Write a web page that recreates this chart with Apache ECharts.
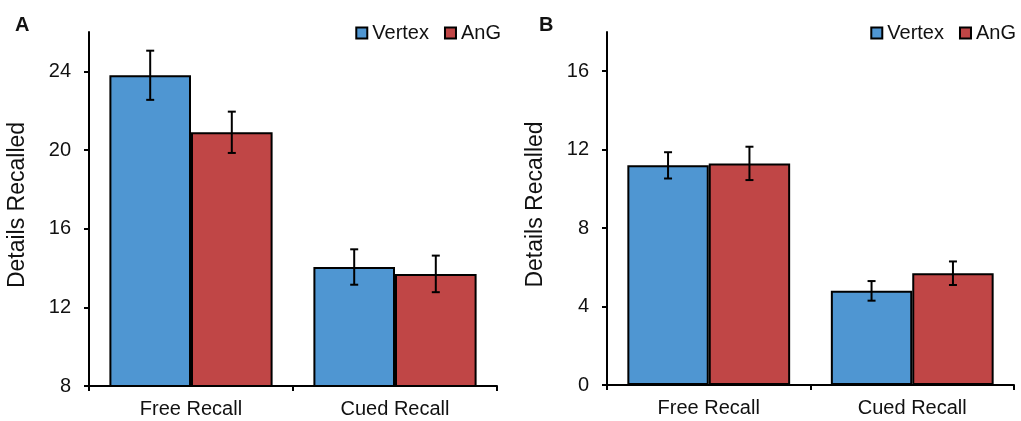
<!DOCTYPE html>
<html>
<head>
<meta charset="utf-8">
<script src="https://cdn.jsdelivr.net/npm/echarts@6/dist/echarts.min.js"></script>
<style>
  html, body { margin: 0; padding: 0; background: #fff; }
  #main { width: 1021px; height: 421px; }
</style>
</head>
<body>
<div id="main"></div>
<script>
// data
var categories = ['Free Recall', 'Cued Recall'];
var seriesNames = ['Vertex', 'AnG'];

var vertexA = [23.8, 14.05];
var vertexErrA = [1.25, 0.9];
var angA = [20.9, 13.7];
var angErrA = [1.05, 0.93];

var vertexB = [11.2, 4.8];
var vertexErrB = [0.67, 0.5];
var angB = [11.3, 5.7];
var angErrB = [0.85, 0.6];

var ticksA = [8, 12, 16, 20, 24];
var ticksB = [0, 4, 8, 12, 16];

var FONT = 'Liberation Sans, Arial, sans-serif';
var TXT = '#111';
var colors = ['#4F96D2', '#C04646'];

var chartDom = document.getElementById('main');
var myChart = echarts.init(chartDom);

function errData(vals, errs) {
  return vals.map(function (v, i) { return [i, v - errs[i], v + errs[i]]; });
}

// error bar drawn on top of the bar: side -1 = left bar, +1 = right bar
function errSeries(name, vals, errs, side, idx) {
  return {
    type: 'custom',
    name: name + ' err',
    xAxisIndex: idx,
    yAxisIndex: idx,
    z: 10,
    silent: true,
    data: errData(vals, errs),
    renderItem: function (params, api) {
      var cat = api.value(0);
      var lo = api.coord([cat, api.value(1)]);
      var hi = api.coord([cat, api.value(2)]);
      var bw = api.size([1, 0])[0] * 0.4;
      var x = lo[0] + side * bw / 2;
      var cap = 4;
      var st = { stroke: '#000', lineWidth: 2 };
      return {
        type: 'group',
        children: [
          { type: 'line', shape: { x1: x, y1: hi[1], x2: x, y2: lo[1] }, style: st },
          { type: 'line', shape: { x1: x - cap, y1: hi[1], x2: x + cap, y2: hi[1] }, style: st },
          { type: 'line', shape: { x1: x - cap, y1: lo[1], x2: x + cap, y2: lo[1] }, style: st }
        ]
      };
    }
  };
}

function barSeries(name, vals, color, idx) {
  return {
    type: 'bar',
    name: name,
    xAxisIndex: idx,
    yAxisIndex: idx,
    barGap: '0%',
    barCategoryGap: '20%',
    itemStyle: { color: color, borderColor: '#000', borderWidth: 2 },
    data: vals
  };
}

function xAxisCfg(idx) {
  return {
    type: 'category',
    gridIndex: idx,
    data: categories,
    axisLine: { lineStyle: { color: '#000', width: 2 } },
    axisTick: { show: true, length: 5, lineStyle: { color: '#000', width: 2 } },
    axisLabel: { color: TXT, fontSize: 20, fontFamily: FONT, margin: 13 }
  };
}

function yAxisCfg(idx, min, max, ticks) {
  return {
    type: 'value',
    gridIndex: idx,
    min: min,
    max: max,
    interval: 4,
    name: 'Details Recalled',
    nameLocation: 'middle',
    nameRotate: 90,
    nameGap: 60,
    nameTextStyle: { color: TXT, fontSize: 23, fontFamily: FONT, padding: [0, 0, 0, 8] },
    splitLine: { show: false },
    axisLine: { show: true, lineStyle: { color: '#000', width: 2 } },
    axisTick: { show: true, length: 5, customValues: ticks, lineStyle: { color: '#000', width: 2 } },
    axisLabel: { color: TXT, fontSize: 20, fontFamily: FONT, margin: 18, customValues: ticks }
  };
}

function legendCfg(right) {
  return {
    data: seriesNames,
    top: 18,
    right: right,
    icon: 'rect',
    itemWidth: 11,
    itemHeight: 11,
    itemGap: 15,
    itemStyle: { borderColor: '#000', borderWidth: 2 },
    textStyle: { color: TXT, fontSize: 20, fontFamily: FONT },
    selectedMode: false
  };
}

var option = {
  animation: false,
  backgroundColor: '#fff',
  title: [
    { text: 'A', left: 10, top: 10, textStyle: { fontSize: 20, fontWeight: 'bold', fontFamily: FONT, color: TXT } },
    { text: 'B', left: 534, top: 10, textStyle: { fontSize: 20, fontWeight: 'bold', fontFamily: FONT, color: TXT } }
  ],
  legend: [legendCfg(515), legendCfg(0)],
  grid: [
    { left: 89, top: 32, width: 408, bottom: 35 },
    { left: 607, top: 32, width: 407, bottom: 36 }
  ],
  xAxis: [xAxisCfg(0), xAxisCfg(1)],
  yAxis: [yAxisCfg(0, 8, 26, ticksA), yAxisCfg(1, 0, 18, ticksB)],
  series: [
    barSeries('Vertex', vertexA, colors[0], 0),
    barSeries('AnG', angA, colors[1], 0),
    barSeries('Vertex', vertexB, colors[0], 1),
    barSeries('AnG', angB, colors[1], 1),
    errSeries('Vertex', vertexA, vertexErrA, -1, 0),
    errSeries('AnG', angA, angErrA, 1, 0),
    errSeries('Vertex', vertexB, vertexErrB, -1, 1),
    errSeries('AnG', angB, angErrB, 1, 1)
  ]
};

option && myChart.setOption(option);
</script>
</body>
</html>
